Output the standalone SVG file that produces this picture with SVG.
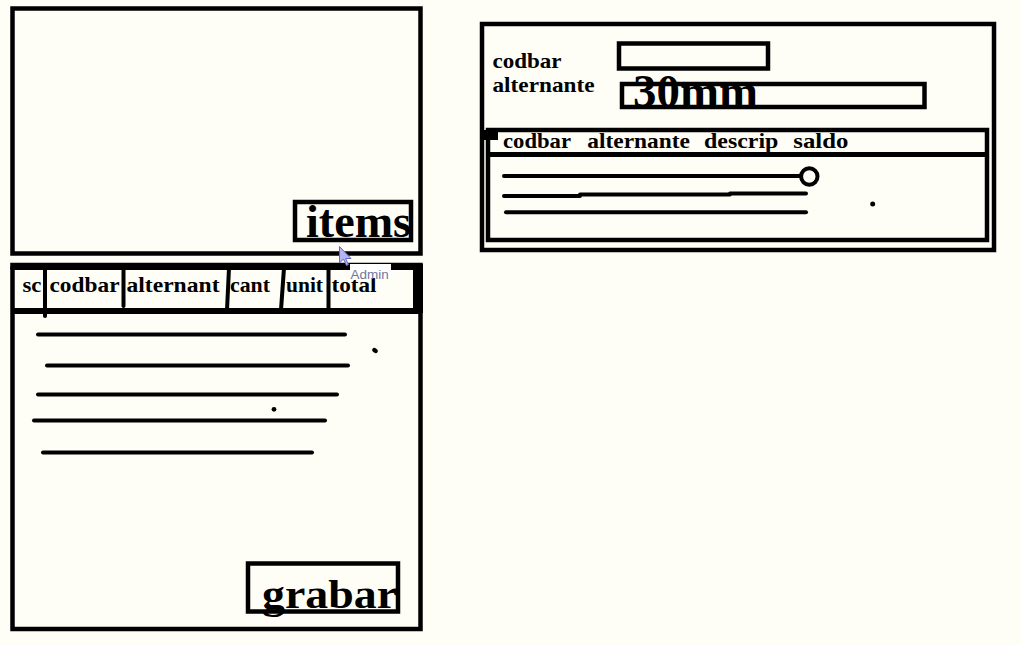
<svg xmlns="http://www.w3.org/2000/svg" width="1021" height="645" viewBox="0 0 1021 645">
<style>
.box{fill:none;stroke:#000;stroke-width:4.5}
.ln{fill:none;stroke:#000;stroke-width:4;stroke-linecap:round;stroke-linejoin:round}
.t{font-family:"Liberation Serif","Times New Roman",serif;font-weight:bold;fill:#000}
.h{font-size:21px}
.big{font-size:46px}
</style>
<rect width="1021" height="645" fill="#FFFEF6"/>
<g id="items-panel">
<rect class="box" x="12.5" y="8.5" width="408" height="245"/>
<text class="t big" x="306" y="236.5" textLength="105" lengthAdjust="spacingAndGlyphs">items</text>
<rect class="box" x="295" y="202" width="116" height="38"/>
</g>
<g id="grid-panel">
<rect class="box" x="12.5" y="265" width="408" height="364"/>
<line class="ln" x1="12" y1="268" x2="421" y2="268"/>
<rect x="413" y="264" width="10" height="49" fill="#000"/>
<line x1="12" y1="311" x2="421" y2="311" stroke="#000" stroke-width="6"/>
<line class="ln" x1="45" y1="268" x2="45" y2="316"/>
<line class="ln" x1="123.5" y1="268" x2="123.5" y2="306"/>
<line class="ln" x1="229" y1="268" x2="227" y2="310"/>
<line class="ln" x1="284" y1="268" x2="281" y2="310"/>
<line class="ln" x1="328.5" y1="268" x2="328.5" y2="310"/>
<text class="t h" x="22.5" y="291.5" textLength="19" lengthAdjust="spacingAndGlyphs">sc</text>
<text class="t h" x="49.5" y="291.5" textLength="70" lengthAdjust="spacingAndGlyphs">codbar</text>
<text class="t h" x="126.5" y="291.5" textLength="93" lengthAdjust="spacingAndGlyphs">alternant</text>
<text class="t h" x="230" y="291.5" textLength="40" lengthAdjust="spacingAndGlyphs">cant</text>
<text class="t h" x="286" y="291.5" textLength="37" lengthAdjust="spacingAndGlyphs">unit</text>
<text class="t h" x="331.5" y="291.5" textLength="45" lengthAdjust="spacingAndGlyphs">total</text>
<line class="ln" x1="38" y1="334.5" x2="345" y2="334.5"/>
<line class="ln" x1="47" y1="365.5" x2="348" y2="365.5"/>
<line class="ln" x1="38" y1="394.5" x2="337" y2="394.5"/>
<line class="ln" x1="34" y1="420.5" x2="325" y2="420.5"/>
<line class="ln" x1="43" y1="452.5" x2="312" y2="452.5"/>
<ellipse cx="375" cy="350.5" rx="3" ry="2.2" transform="rotate(35 375 350.5)" fill="#000"/>
<circle cx="274" cy="409.3" r="2.4" fill="#000"/>
</g>
<g id="grabar-button">
<text class="t" x="262" y="608" font-size="40" textLength="135" lengthAdjust="spacingAndGlyphs">grabar</text>
<rect class="box" x="248" y="563.5" width="150" height="48"/>
</g>
<g id="search-panel">
<rect class="box" x="482" y="24" width="512" height="226"/>
<text class="t h" x="492.5" y="68" textLength="69" lengthAdjust="spacingAndGlyphs">codbar</text>
<text class="t h" x="492.5" y="92" textLength="102" lengthAdjust="spacingAndGlyphs">alternante</text>
<rect class="box" x="619" y="43.5" width="149" height="25"/>
<rect class="box" x="622" y="84" width="302.5" height="23"/>
<text class="t" x="633" y="107" font-size="47" textLength="125" lengthAdjust="spacingAndGlyphs">30mm</text>
</g>
<g id="result-table">
<rect class="box" x="488" y="130" width="499" height="110"/>
<rect x="483" y="130" width="15" height="10" fill="#000"/>
<line x1="488" y1="154.5" x2="987" y2="154.5" stroke="#000" stroke-width="5"/>
<text class="t h" x="503" y="148.3" textLength="68" lengthAdjust="spacingAndGlyphs">codbar</text>
<text class="t h" x="587.3" y="148.3" textLength="102.7" lengthAdjust="spacingAndGlyphs">alternante</text>
<text class="t h" x="704" y="148.3" textLength="74.3" lengthAdjust="spacingAndGlyphs">descrip</text>
<text class="t h" x="793.3" y="148.3" textLength="55" lengthAdjust="spacingAndGlyphs">saldo</text>
<line class="ln" x1="504" y1="176" x2="800" y2="176"/>
<circle cx="809.3" cy="176.5" r="8.2" fill="none" stroke="#000" stroke-width="4"/>
<polyline class="ln" points="504,196 580,196 580,194.5 730,194.5 730,193.5 806,193.5"/>
<line class="ln" x1="506" y1="212.3" x2="806" y2="212.3"/>
<circle cx="872.7" cy="204" r="2.5" fill="#000"/>
</g>
<g id="cursor">
<rect x="350" y="264" width="41" height="14" fill="#FFFFFF"/>
<text x="350.5" y="279.3" font-family="'Liberation Sans',Arial,sans-serif" font-size="13.5" fill="#76769A">Admin</text>
<polygon points="339.5,246.5 339.5,263 343.5,259 346.5,265.5 348.5,264.5 345.5,258.5 351,258.5" fill="#B4B4F4" stroke="#6868C0" stroke-width="1"/>
</g>
</svg>
